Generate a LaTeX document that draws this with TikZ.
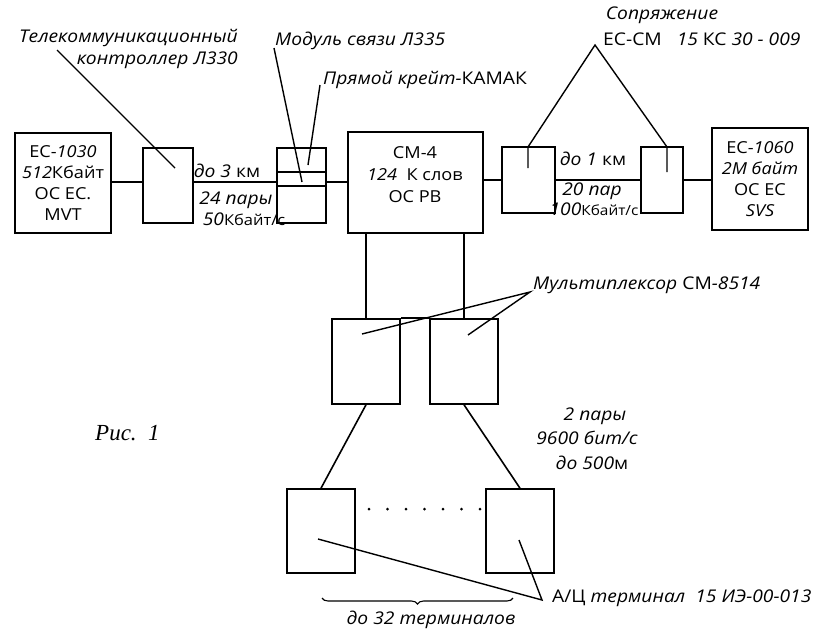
\documentclass[tikz,border=0pt]{standalone}
\usepackage{fontspec}
\setmainfont{Open Sans}[FakeStretch=1.1]
\newfontfamily\risfont{Liberation Serif}
\usetikzlibrary{decorations.pathreplacing}
\tikzset{
  box/.style={draw, line width=1.6pt, inner sep=0pt, align=center,
    font=\fontsize{16.5}{21}\selectfont},
  wire/.style={line width=1.6pt},
  ptr/.style={line width=1.4pt, line join=miter},
  lbl/.style={inner sep=0pt, font=\fontsize{17.5}{20}\selectfont\itshape},
  dotmark/.style={fill, circle, inner sep=0pt, minimum size=3pt}
}
\begin{document}
\begin{tikzpicture}[x=1pt,y=-1pt]
\useasboundingbox (0,0) rectangle (819,630);
% boxes
\node[box, minimum width=96pt, minimum height=100pt] (ec1030) at (63,183)
  {ЕС-{\itshape 1030}\\{\itshape 512}Кбайт\\ОС ЕС.\\MVT};
\node[box, minimum width=50pt, minimum height=75pt] (ctrl) at (168,185.5) {};
\node[box, minimum width=49pt, minimum height=75pt] (crate) at (301.5,185.5) {};
\node[box, minimum width=135pt, minimum height=101pt] (cm4) at (415.5,182.5) {};
\node[inner sep=0pt, align=center, font=\fontsize{16.5}{22}\selectfont] (cm4t) at (415,175)
  {СМ-4\\{\itshape 124}\ \ К слов\\ОС РВ};
\node[box, minimum width=53pt, minimum height=66pt] (ifL) at (528.5,180) {};
\node[box, minimum width=42pt, minimum height=66pt] (ifR) at (662,180) {};
\node[box, minimum width=96pt, minimum height=102pt] (ec1060) at (760,179)
  {ЕС-{\itshape 1060}\\{\itshape 2М байт}\\ОС ЕС\\{\itshape SVS}};
\node[box, minimum width=68pt, minimum height=85pt] (muxL) at (366,361.5) {};
\node[box, minimum width=68pt, minimum height=85pt] (muxR) at (464,361.5) {};
\node[box, minimum width=68pt, minimum height=84pt] (termL) at (321,531) {};
\node[box, minimum width=68pt, minimum height=84pt] (termR) at (520,531) {};
% helper coordinates
\coordinate (yl) at (0,182);
\coordinate (yr) at (0,180);
\coordinate (ci1) at (0,172);
\coordinate (ci2) at (0,186);
% crate inner lines
\draw[wire] (crate.west |- ci1) -- (crate.east |- ci1);
\draw[wire] (crate.west |- ci2) -- (crate.east |- ci2);
% horizontal connectors
\draw[wire] (ec1030.east |- yl) -- (ctrl.west |- yl);
\draw[wire] (ctrl.east |- yl) -- (crate.west |- yl);
\draw[wire] (crate.east |- yl) -- (cm4.west |- yl);
\draw[wire] (cm4.east |- yr) -- (ifL.west |- yr);
\draw[wire] (ifL.east |- yr) -- (ifR.west |- yr);
\draw[wire] (ifR.east |- yr) -- (ec1060.west |- yr);
% vertical connectors
\draw[wire] (cm4.south -| muxL.north) -- (muxL.north);
\draw[wire] (cm4.south -| muxR.north) -- (muxR.north);
\draw[wire] (muxL.north east) -- (muxR.north west);
\draw[wire] (muxL.south) -- (termL.north);
\draw[wire] (muxR.south) -- (termR.north);
% dots
\foreach \i in {0,...,6} \node[dotmark] (d\i) at (369+18.5*\i,509) {};
% labels
\node[lbl, anchor=mid east] (tel1) at (238,40) {Телекоммуникационный};
\node[lbl, anchor=mid east] (tel2) at (238,62) {контроллер Л330};
\node[lbl, anchor=mid west] (mod) at (275,43) {Модуль связи Л335};
\node[lbl, anchor=mid west] (pry) at (323,82) {Прямой крейт-{\upshape КАМАК}};
\node[lbl, anchor=mid] (sopr1) at (662,17) {Сопряжение};
\node[lbl, anchor=mid west] (sopr2) at (603,43) {{\upshape ЕС-СМ}\ \ \ 15 {\upshape КС} 30 - 009};
\node[lbl, anchor=mid] (l3km) at (227,175) {до 3 {\upshape км}};
\node[lbl, anchor=mid] (l24) at (236,202) {24 пары};
\node[lbl, anchor=mid] (l50) at (244,223) {50{\upshape\fontsize{15}{18}\selectfont Кбайт/с}};
\node[lbl, anchor=mid] (l1km) at (593,163) {до 1 {\upshape км}};
\node[lbl, anchor=mid] (l20) at (592,193) {20 пар};
\node[lbl, anchor=mid] (l100) at (594,213) {100{\upshape\fontsize{14}{18}\selectfont Кбайт/с}};
\node[lbl, anchor=mid west] (mux) at (533,287) {Мультиплексор {\upshape СМ}-8514};
\node[lbl, anchor=mid] (p2) at (595,418) {2 пары};
\node[lbl, anchor=mid] (p9600) at (587,442) {9600 бит/с};
\node[lbl, anchor=mid] (p500) at (592,467) {до 500{\upshape м}};
\node[lbl, anchor=mid west] (term) at (552,600) {{\upshape А/Ц} терминал\ \ 15 ИЭ-00-013};
\node[lbl, anchor=mid] (t32) at (431,622) {до 32 терминалов};
\node[inner sep=0pt, anchor=mid west, font=\risfont\fontsize{23}{25}\selectfont\itshape] (ris) at (95,438) {Рис.\ \ 1};
% pointers
\coordinate (pt1) at (57,50);   \coordinate (pt2) at (175,168);
\draw[ptr] (pt1) -- (pt2);
\coordinate (pm1) at (274,48);  \coordinate (pm2) at (302,182);
\draw[ptr] (pm1) -- (pm2);
\coordinate (pp1) at (320,85);  \coordinate (pp2) at (308,165);
\draw[ptr] (pp1) -- (pp2);
\coordinate (sa) at (595,45);
\coordinate (sl) at (528,147); \coordinate (sl2) at (528,168);
\coordinate (sr) at (667,147); \coordinate (sr2) at (667,172);
\draw[ptr] (sl2) -- (sl) -- (sa) -- (sr) -- (sr2);
\coordinate (ma) at (530,292);
\coordinate (ml) at (362,334); \coordinate (mr) at (468,335);
\draw[ptr] (ml) -- (ma) -- (mr);
\coordinate (ta) at (542,600);
\coordinate (tl) at (318,539); \coordinate (tr) at (519,540);
\draw[ptr] (tl) -- (ta) -- (tr);
% brace
\coordinate (b1) at (322,598); \coordinate (b2) at (513,598);
\draw[line width=1.1pt, decorate, decoration={brace, mirror, amplitude=6pt}] (b1) -- (b2);
\end{tikzpicture}
\end{document}
